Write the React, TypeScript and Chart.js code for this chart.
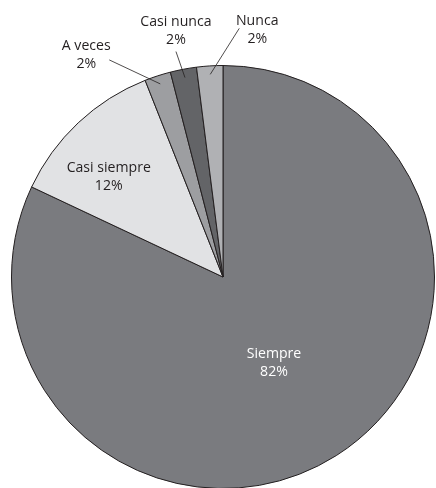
import React, { useEffect, useRef } from "react";
import { Chart, registerables } from "chart.js";

Chart.register(...registerables);

const categories = ["Siempre", "Casi siempre", "A veces", "Casi nunca", "Nunca"];
const values = [82, 12, 2, 2, 2];
const percentLabels = ["82%", "12%", "2%", "2%", "2%"];
const sliceColors = ["#7a7b7f", "#e1e2e4", "#9d9ea1", "#636467", "#b0b1b4"];

// label style: inside (radius fraction + nudge) or outside (leader offsets in px)
type LabelStyle =
  | { kind: "inside"; r: number; nudge: [number, number]; color: string }
  | { kind: "outside"; lead: [number, number]; text: [number, number] };

const labelStyles: LabelStyle[] = [
  { kind: "inside", r: 0.45, nudge: [0, 5], color: "#ffffff" },
  { kind: "inside", r: 0.72, nudge: [-10, 11], color: "#231f20" },
  { kind: "outside", lead: [-51, -24], text: [-23, -5] },
  { kind: "outside", lead: [-9, -26], text: [0, -21] },
  { kind: "outside", lead: [29, -46], text: [18, 1] },
];

const FONT = "15px 'Open Sans', Lato, sans-serif";
const X_SCALE = 0.94;
const LINE_H = 18;

function drawText(ctx: CanvasRenderingContext2D, s: string, x: number, y: number) {
  ctx.save();
  ctx.translate(x, y);
  ctx.scale(X_SCALE, 1);
  ctx.fillText(s, 0, 0);
  ctx.restore();
}

const labelPlugin = {
  id: "pieLabels",
  afterDatasetsDraw(chart: any) {
    const ctx = chart.ctx as CanvasRenderingContext2D;
    const meta = chart.getDatasetMeta(0);
    ctx.save();
    ctx.font = FONT;
    ctx.textAlign = "center";
    ctx.textBaseline = "middle";
    meta.data.forEach((arc: any, i: number) => {
      const { x, y, startAngle, endAngle, outerRadius } = arc.getProps(
        ["x", "y", "startAngle", "endAngle", "outerRadius"],
        true
      );
      const mid = (startAngle + endAngle) / 2;
      const st = labelStyles[i];
      const lines = [categories[i], percentLabels[i]];
      if (st.kind === "inside") {
        const cx = x + Math.cos(mid) * outerRadius * st.r + st.nudge[0];
        const cy = y + Math.sin(mid) * outerRadius * st.r + st.nudge[1];
        ctx.fillStyle = st.color;
        drawText(ctx, lines[0], cx, cy - LINE_H / 2);
        drawText(ctx, lines[1], cx, cy + LINE_H / 2);
      } else {
        const ex = x + Math.cos(mid) * outerRadius * 0.96;
        const ey = y + Math.sin(mid) * outerRadius * 0.96;
        const sx = ex + st.lead[0];
        const sy = ey + st.lead[1];
        ctx.strokeStyle = "#231f20";
        ctx.lineWidth = 0.8;
        ctx.beginPath();
        ctx.moveTo(sx, sy);
        ctx.lineTo(ex, ey);
        ctx.stroke();
        const tx = sx + st.text[0];
        const ty = sy + st.text[1];
        ctx.fillStyle = "#231f20";
        drawText(ctx, lines[0], tx, ty - LINE_H / 2);
        drawText(ctx, lines[1], tx, ty + LINE_H / 2);
      }
    });
    ctx.restore();
  },
};

export default function App() {
  const ref = useRef<HTMLCanvasElement | null>(null);
  useEffect(() => {
    if (!ref.current) return;
    const chart = new Chart(ref.current, {
      type: "pie",
      data: {
        labels: categories,
        datasets: [
          {
            data: values,
            backgroundColor: sliceColors,
            borderColor: "#231f20",
            borderWidth: 1,
          },
        ],
      },
      options: {
        responsive: false,
        animation: false,
        layout: { padding: { left: 11, right: 1, top: 65, bottom: 11 } },
        plugins: {
          legend: { display: false },
          tooltip: { enabled: false },
        },
      },
      plugins: [labelPlugin],
    });
    return () => chart.destroy();
  }, []);
  return (
    <div
      style={{
        position: "fixed",
        left: 0,
        top: 0,
        width: 436,
        height: 488,
        overflow: "hidden",
        background: "#ffffff",
      }}
    >
      <canvas ref={ref} width={436} height={500} style={{ display: "block" }} />
    </div>
  );
}
